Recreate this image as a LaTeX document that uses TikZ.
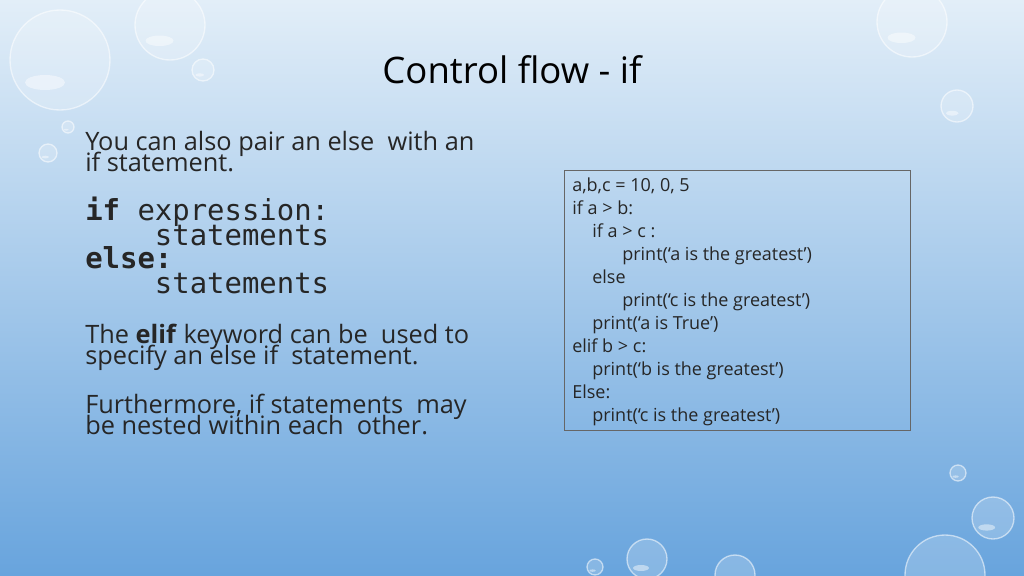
\documentclass[tikz,border=0pt]{standalone}
\usepackage{fontspec}
\setmainfont{Open Sans}
\setmonofont{DejaVu Sans Mono}
\begin{document}
\begin{tikzpicture}[x=0.75pt,y=-0.75pt,
  body/.style={anchor=base west,inner sep=0,font=\fontsize{19}{19}\selectfont,text=black!85},
  mono/.style={anchor=base west,inner sep=0,font=\ttfamily\fontsize{21.7}{21.7}\selectfont,text=black!85},
  code/.style={anchor=base west,inner sep=0,font=\fontsize{13.5}{13.5}\selectfont,text=black!85},
  drop/.style={fill=white,fill opacity=0.2,draw=white,draw opacity=0.55,line width=1pt}]
\shade[top color={rgb,255:red,226;green,238;blue,248},bottom color={rgb,255:red,104;green,164;blue,221}] (0,0) rectangle (1024,575);
\useasboundingbox (0,0) rectangle (1024,575);
% droplets
\foreach \x/\y/\r in {60/60/50,170/25/35,203/70/11,68/127/6,48/153/9,912/22/35,957/106/16,958/473/8,993/518/21,647/559/20,735/575/20,945/575/40,595/567/8}{
  \fill[drop] (\x,\y) circle (\r);
  \fill[white,opacity=0.45] (\x-0.3*\r,\y+0.45*\r) ellipse ({0.4*\r} and {0.15*\r});
}
\node[anchor=base,inner sep=0,font=\fontsize{27.4}{27.4}\selectfont] (title) at (512,83) {Control flow - if};
\node[body] (l1) at (85,150) {You can also pair an else\ \ with an};
\node[body] (l2) at (85,171) {if statement.};
\node[mono] (c1) at (85,220) {\textbf{if} expression:};
\node[mono] (c2) at (85,245) {\ \ \ \ statements};
\node[mono] (c3) at (85,268) {\textbf{else:}};
\node[mono] (c4) at (85,293) {\ \ \ \ statements};
\node[body] (l3) at (85,343) {The \textbf{elif} keyword can be\ \ used to};
\node[body] (l4) at (85,364) {specify an else if\ \ statement.};
\node[body] (l5) at (85,413) {Furthermore, if statements\ \ may};
\node[body] (l6) at (85,434) {be nested within each\ \ other.};
\draw[black!60,line width=0.6pt] (564,170) rectangle (910,430);
\node[code] (k1) at (572,191) {a,b,c = 10, 0, 5};
\node[code] (k2) at (572,214) {if a > b:};
\node[code] (k3) at (592,237) {if a > c :};
\node[code] (k4) at (622,260) {print(‘a is the greatest’)};
\node[code] (k5) at (592,283) {else};
\node[code] (k6) at (622,306) {print(‘c is the greatest’)};
\node[code] (k7) at (592,329) {print(‘a is True’)};
\node[code] (k8) at (572,352) {elif b > c:};
\node[code] (k9) at (592,375) {print(‘b is the greatest’)};
\node[code] (k10) at (572,398) {Else:};
\node[code] (k11) at (592,421) {print(‘c is the greatest’)};
\end{tikzpicture}
\end{document}
